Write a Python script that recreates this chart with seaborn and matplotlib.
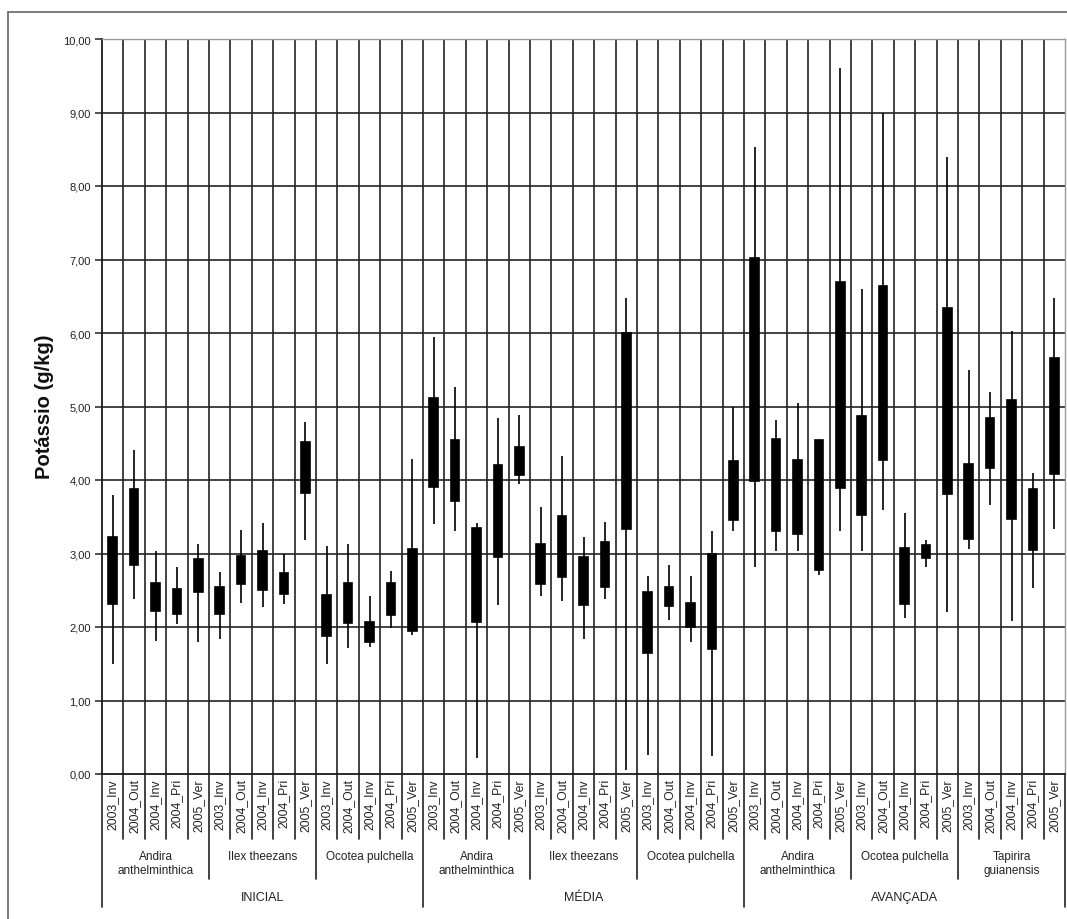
import numpy as np
import pandas as pd
import matplotlib
matplotlib.use("Agg")
import matplotlib.pyplot as plt
import seaborn as sns
from matplotlib.lines import Line2D

# ---------------- data ----------------
zones = ["INICIAL", "MÉDIA", "AVANÇADA"]
species = [
    ["Andira\nanthelminthica", "Ilex theezans", "Ocotea pulchella"],
    ["Andira\nanthelminthica", "Ilex theezans", "Ocotea pulchella"],
    ["Andira\nanthelminthica", "Ocotea pulchella", "Tapirira\nguianensis"],
]
seasons = ["2003_Inv", "2004_Out", "2004_Inv", "2004_Pri", "2005_Ver"]

high = [3.80, 4.41, 3.03, 2.82, 3.13,
        2.75, 3.32, 3.41, 2.99, 4.79,
        3.10, 3.13, 2.42, 2.76, 4.29,
        5.95, 5.27, 3.41, 4.85, 4.88,
        3.63, 4.32, 3.22, 3.43, 6.47,
        2.70, 2.85, 2.70, 3.31, 5.00,
        8.53, 4.81, 5.05, 4.55, 9.60,
        6.60, 8.99, 3.55, 3.18, 8.40,
        5.50, 5.20, 6.03, 4.10, 6.48]
box_top = [3.22, 3.88, 2.60, 2.52, 2.92,
           2.54, 2.97, 3.03, 2.73, 4.52,
           2.43, 2.60, 2.07, 2.60, 3.06,
           5.12, 4.55, 3.35, 4.20, 4.45,
           3.13, 3.51, 2.95, 3.16, 6.00,
           2.47, 2.55, 2.33, 2.99, 4.26,
           7.02, 4.56, 4.27, 4.55, 6.69,
           4.87, 6.64, 3.07, 3.12, 6.34,
           4.22, 4.85, 5.09, 3.88, 5.66]
box_bottom = [2.31, 2.84, 2.22, 2.18, 2.48,
              2.18, 2.58, 2.51, 2.45, 3.82,
              1.88, 2.05, 1.80, 2.17, 1.95,
              3.90, 3.71, 2.07, 2.95, 4.07,
              2.58, 2.68, 2.30, 2.55, 3.33,
              1.64, 2.29, 2.00, 1.70, 3.45,
              3.98, 3.30, 3.27, 2.78, 3.89,
              3.53, 4.27, 2.31, 2.94, 3.81,
              3.20, 4.16, 3.47, 3.05, 4.08]
low = [1.50, 2.38, 1.81, 2.04, 1.79,
       1.83, 2.33, 2.27, 2.31, 3.19,
       1.50, 1.71, 1.73, 1.99, 1.89,
       3.40, 3.30, 0.22, 2.30, 3.95,
       2.42, 2.35, 1.83, 2.38, 0.05,
       0.26, 2.09, 1.80, 0.24, 3.30,
       2.81, 3.04, 3.04, 2.71, 3.31,
       3.04, 3.59, 2.12, 2.82, 2.21,
       3.06, 3.66, 2.08, 2.53, 3.33]
yticks = [0, 1, 2, 3, 4, 5, 6, 7, 8, 9, 10]
ytick_labels = ["0,00", "1,00", "2,00", "3,00", "4,00", "5,00",
                "6,00", "7,00", "8,00", "9,00", "10,00"]
ylabel = "Potássio (g/kg)"

# long table: [low, bottom, bottom, top, top, high] -> Q1=bottom, Q3=top exactly
n = len(high)
rows = []
for i in range(n):
    for v in (low[i], box_bottom[i], box_bottom[i], box_top[i], box_top[i], high[i]):
        rows.append({"pos": i, "val": v})
df = pd.DataFrame(rows)

# ---------------- figure ----------------
sns.set_theme(style="white")
plt.rcParams["font.family"] = ["Liberation Sans", "DejaVu Sans"]

W, H = 1067, 920
fig = plt.figure(figsize=(W / 100, H / 100), dpi=100)
ax_l, ax_r, ax_t, ax_b = 102, 1065, 40, 775
ax = fig.add_axes([ax_l / W, 1 - ax_b / H, (ax_r - ax_l) / W, (ax_b - ax_t) / H])

sns.boxplot(data=df, x="pos", y="val", ax=ax, whis=(0, 100), width=0.4,
            color="black", linecolor="black", saturation=1, linewidth=1.2,
            showcaps=False, showfliers=False,
            medianprops=dict(linewidth=0),
            whiskerprops=dict(color="black", linewidth=1.2),
            boxprops=dict(facecolor="black", edgecolor="black"))

ax.set_xlim(-0.5, n - 0.5)
ax.set_ylim(0, 10)
ax.set_yticks(yticks)
ax.set_yticklabels(ytick_labels, fontsize=8, color="#222")
ax.set_xlabel("")
ax.set_ylabel("")

# grid
for y in yticks[1:-1]:
    ax.axhline(y, color="#222", lw=1.2, zorder=0)
for k in range(1, n):
    ax.axvline(k - 0.5, color="#222", lw=1.2, zorder=0)

for s in ["left", "bottom"]:
    ax.spines[s].set_color("#1a1a1a")
    ax.spines[s].set_linewidth(1.3)
for s in ["top", "right"]:
    ax.spines[s].set_color("#9a9a9a")
    ax.spines[s].set_linewidth(1.0)

ax.tick_params(axis="y", length=5, width=1.1, color="#222", pad=3, left=True)
ax.set_xticks(range(n))
ax.set_xticklabels(seasons * 9, rotation=90, fontsize=8.8, color="#222")
ax.tick_params(axis="x", length=0, pad=3)

# hierarchical labels below axis
tr = ax.get_xaxis_transform()
def fy(ypix):
    return (ax_b - ypix) / (ax_b - ax_t)

for k in range(0, n + 1):
    x = k - 0.5
    if k % 15 == 0:
        yend = 908
    elif k % 5 == 0:
        yend = 880
    else:
        yend = 840
    ax.add_line(Line2D([x, x], [0, fy(yend)], transform=tr, color="#222",
                       lw=1.2, clip_on=False))

for zi, z in enumerate(zones):
    for si, sp in enumerate(species[zi]):
        g = zi * 3 + si
        cx = g * 5 + 2
        ax.text(cx, fy(851), sp, transform=tr, ha="center", va="top",
                fontsize=8.5, color="#222", linespacing=1.25)
    ax.text(zi * 15 + 7, fy(898), z, transform=tr, ha="center", va="center",
            fontsize=9, color="#222")

fig.text(44 / W, 1 - 407 / H, ylabel, rotation=90, ha="center", va="center",
         fontsize=14.5, fontweight="bold", color="#111")

# outer frame
fig.add_artist(Line2D([8 / W, 8 / W], [0, 1 - 13 / H], transform=fig.transFigure,
                      color="#666", lw=1.2))
fig.add_artist(Line2D([8 / W, 1], [1 - 13 / H, 1 - 13 / H], transform=fig.transFigure,
                      color="#666", lw=1.2))

fig.savefig("out.png", dpi=100, facecolor="white")
